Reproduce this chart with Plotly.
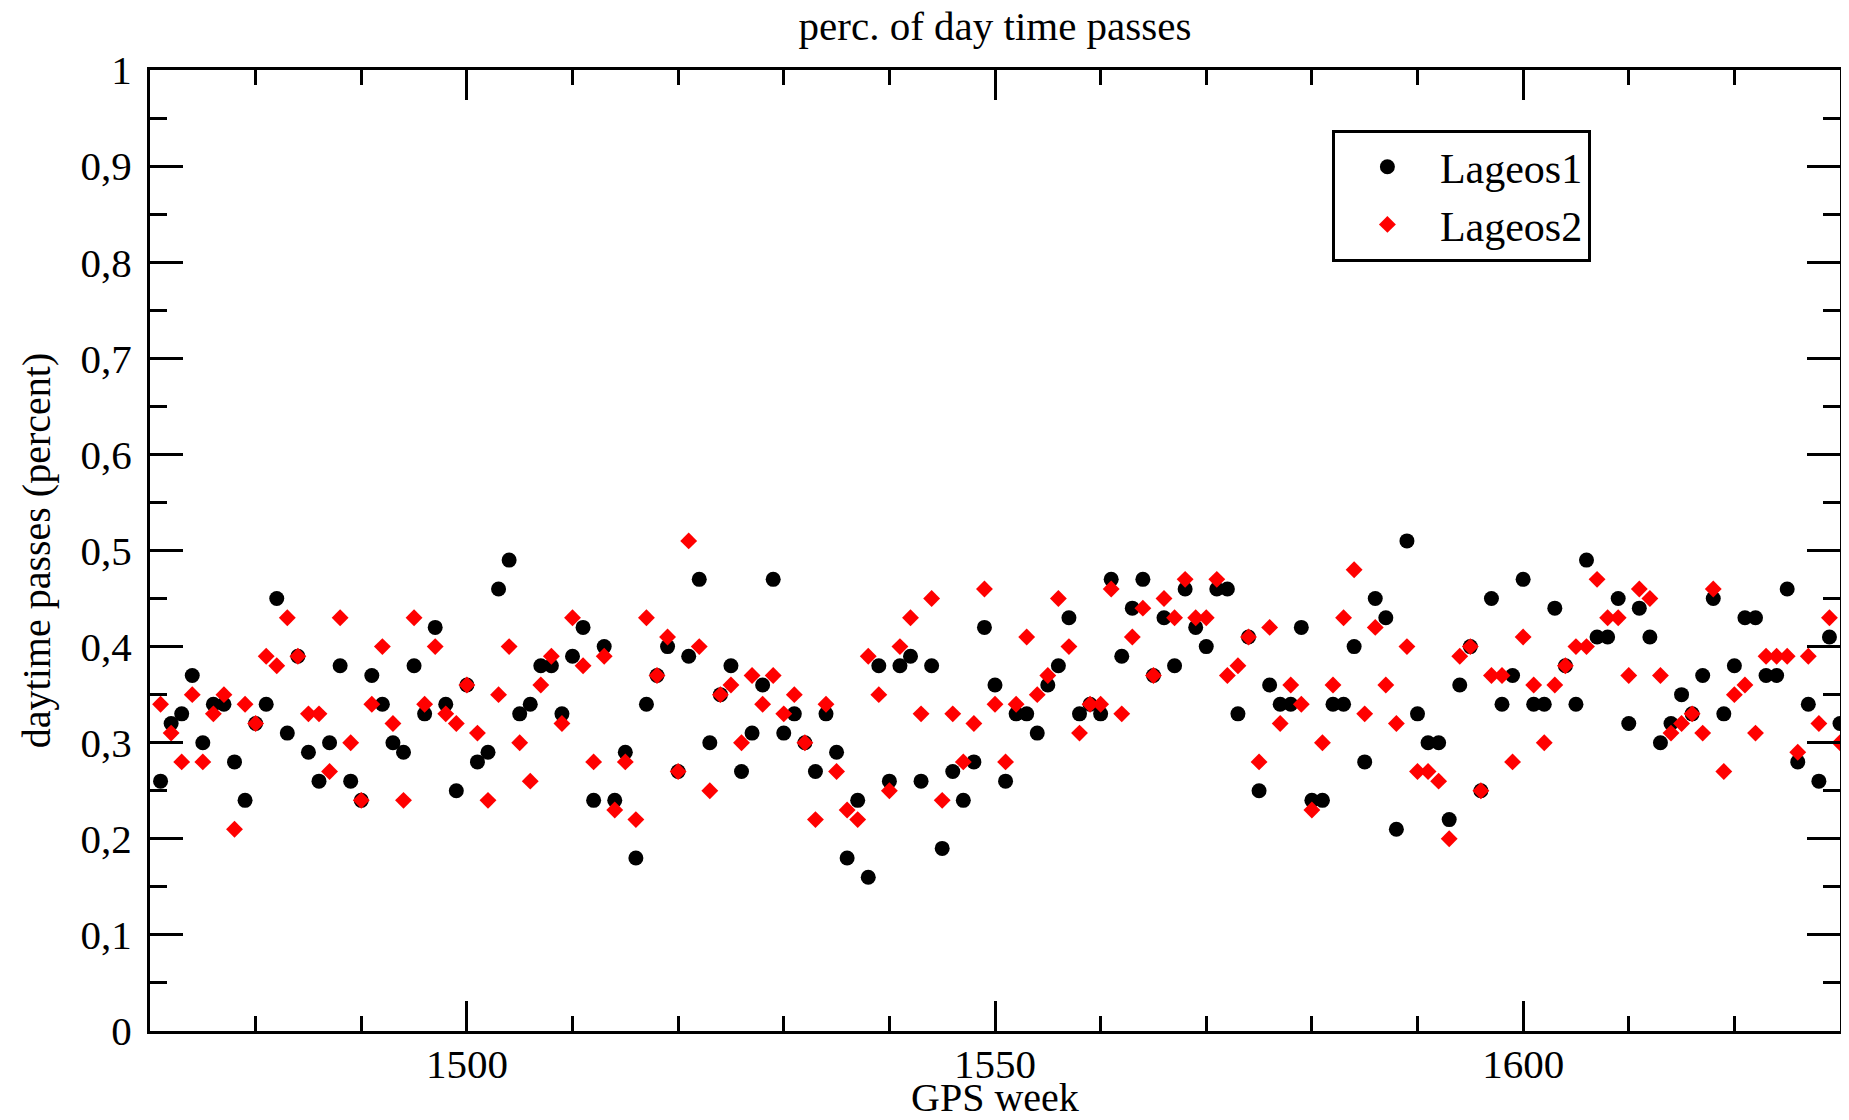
import plotly.graph_objects as go

weeks = list(range(1471, 1631))

lageos1 = [
    0.26, 0.32, 0.33, 0.37, 0.30, 0.34, 0.34, 0.28, 0.24, 0.32,
    0.34, 0.45, 0.31, 0.39, 0.29, 0.26, 0.30, 0.38, 0.26, 0.24,
    0.37, 0.34, 0.30, 0.29, 0.38, 0.33, 0.42, 0.34, 0.25, 0.36,
    0.28, 0.29, 0.46, 0.49, 0.33, 0.34, 0.38, 0.38, 0.33, 0.39,
    0.42, 0.24, 0.40, 0.24, 0.29, 0.18, 0.34, 0.37, 0.40, 0.27,
    0.39, 0.47, 0.30, 0.35, 0.38, 0.27, 0.31, 0.36, 0.47, 0.31,
    0.33, 0.30, 0.27, 0.33, 0.29, 0.18, 0.24, 0.16, 0.38, 0.26,
    0.38, 0.39, 0.26, 0.38, 0.19, 0.27, 0.24, 0.28, 0.42, 0.36,
    0.26, 0.33, 0.33, 0.31, 0.36, 0.38, 0.43, 0.33, 0.34, 0.33,
    0.47, 0.39, 0.44, 0.47, 0.37, 0.43, 0.38, 0.46, 0.42, 0.40,
    0.46, 0.46, 0.33, 0.41, 0.25, 0.36, 0.34, 0.34, 0.42, 0.24,
    0.24, 0.34, 0.34, 0.40, 0.28, 0.45, 0.43, 0.21, 0.51, 0.33,
    0.30, 0.30, 0.22, 0.36, 0.40, 0.25, 0.45, 0.34, 0.37, 0.47,
    0.34, 0.34, 0.44, 0.38, 0.34, 0.49, 0.41, 0.41, 0.45, 0.32,
    0.44, 0.41, 0.30, 0.32, 0.35, 0.33, 0.37, 0.45, 0.33, 0.38,
    0.43, 0.43, 0.37, 0.37, 0.46, 0.28, 0.34, 0.26, 0.41, 0.32,
]

lageos2 = [
    0.34, 0.31, 0.28, 0.35, 0.28, 0.33, 0.35, 0.21, 0.34, 0.32,
    0.39, 0.38, 0.43, 0.39, 0.33, 0.33, 0.27, 0.43, 0.30, 0.24,
    0.34, 0.40, 0.32, 0.24, 0.43, 0.34, 0.40, 0.33, 0.32, 0.36,
    0.31, 0.24, 0.35, 0.40, 0.30, 0.26, 0.36, 0.39, 0.32, 0.43,
    0.38, 0.28, 0.39, 0.23, 0.28, 0.22, 0.43, 0.37, 0.41, 0.27,
    0.51, 0.40, 0.25, 0.35, 0.36, 0.30, 0.37, 0.34, 0.37, 0.33,
    0.35, 0.30, 0.22, 0.34, 0.27, 0.23, 0.22, 0.39, 0.35, 0.25,
    0.40, 0.43, 0.33, 0.45, 0.24, 0.33, 0.28, 0.32, 0.46, 0.34,
    0.28, 0.34, 0.41, 0.35, 0.37, 0.45, 0.40, 0.31, 0.34, 0.34,
    0.46, 0.33, 0.41, 0.44, 0.37, 0.45, 0.43, 0.47, 0.43, 0.43,
    0.47, 0.37, 0.38, 0.41, 0.28, 0.42, 0.32, 0.36, 0.34, 0.23,
    0.30, 0.36, 0.43, 0.48, 0.33, 0.42, 0.36, 0.32, 0.40, 0.27,
    0.27, 0.26, 0.20, 0.39, 0.40, 0.25, 0.37, 0.37, 0.28, 0.41,
    0.36, 0.30, 0.36, 0.38, 0.40, 0.40, 0.47, 0.43, 0.43, 0.37,
    0.46, 0.45, 0.37, 0.31, 0.32, 0.33, 0.31, 0.46, 0.27, 0.35,
    0.36, 0.31, 0.39, 0.39, 0.39, 0.29, 0.39, 0.32, 0.43, 0.30,
]

FONT = "Liberation Serif, Times New Roman, serif"

# page has an 8px body margin; figure is sized/offset to compensate
W, H = 1841, 1104
ML, MT, MR, MB = 142, 62, 6, 81
plot_w = W - ML - MR
plot_h = H - MT - MB

fig = go.Figure()
fig.add_trace(go.Scatter(
    x=weeks, y=lageos1, mode="markers", name="Lageos1",
    marker=dict(symbol="circle", size=15, color="black", line=dict(width=0)),
))
fig.add_trace(go.Scatter(
    x=weeks, y=lageos2, mode="markers", name="Lageos2",
    marker=dict(symbol="diamond", size=13, color="#ff0000", line=dict(width=0)),
))

axis_common = dict(
    showline=True, linewidth=3, linecolor="black", mirror="allticks",
    ticks="inside", tickwidth=3, tickcolor="black",
    showgrid=False, zeroline=False,
    tickfont=dict(family=FONT, size=41, color="black"),
)

fig.update_xaxes(
    range=[1470, 1630], tick0=1500, dtick=50, ticklen=30,
    minor=dict(dtick=10, tick0=1470, ticks="inside", ticklen=15, tickwidth=3, tickcolor="black", showgrid=False),
    ticklabelstandoff=-5,
    **axis_common,
)
fig.update_yaxes(
    range=[0, 1], tick0=0, dtick=0.1, ticklen=33,
    minor=dict(dtick=0.05, tick0=0, ticks="inside", ticklen=17, tickwidth=3, tickcolor="black", showgrid=False),
    ticklabelstandoff=7,
    title=dict(text="daytime passes (percent)", font=dict(family=FONT, size=40, color="black"), standoff=18),
    **axis_common,
)

# x-axis title placed as annotation (page y ~1097)
fig.add_annotation(
    text="GPS week", xref="paper", yref="paper", x=0.5, y=-(1089 - (H - MB)) / plot_h,
    xanchor="center", yanchor="middle", showarrow=False,
    font=dict(family=FONT, size=40, color="black"),
)

fig.update_layout(
    width=W, height=H,
    margin=dict(l=ML, r=MR, t=MT, b=MB),
    paper_bgcolor="white", plot_bgcolor="white",
    separators=",.",
    title=dict(text="perc. of day time passes", x=0.5, xref="paper", xanchor="center",
               y=1 - 18 / H, yref="container", yanchor="middle",
               font=dict(family=FONT, size=41, color="black")),
    legend=dict(x=(1334 - 8 - ML) / plot_w, y=1 - (130 - 8 - MT) / plot_h,
                xanchor="left", yanchor="top",
                bgcolor="white", bordercolor="black", borderwidth=3,
                font=dict(family=FONT, size=42, color="black"),
                itemwidth=95, tracegroupgap=0),
    showlegend=True,
)

fig.write_html("out.html")
